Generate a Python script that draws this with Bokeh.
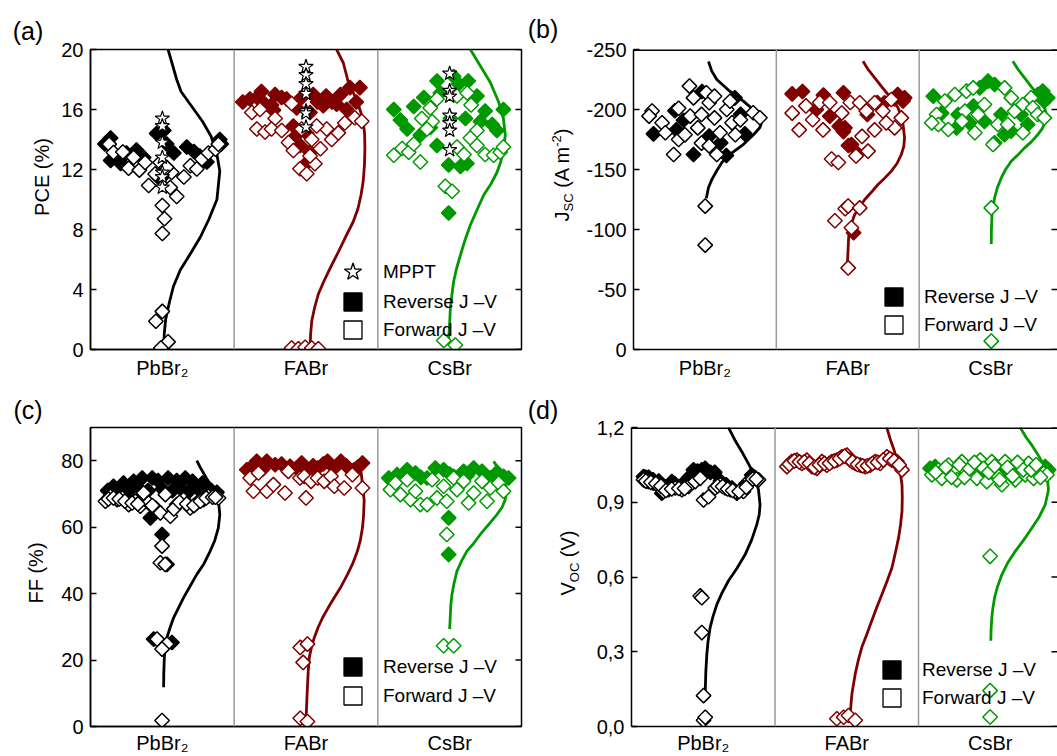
import numpy as np
from bokeh.plotting import figure
from bokeh.layouts import column, row
from bokeh.models import (Range1d, FixedTicker, LinearAxis, Span, Legend,
                          LegendItem, CustomJSTickFormatter, Div)
from bokeh.embed import file_html
from bokeh.resources import INLINE

# ---------------- data (offset inside category 0..1, value) ----------------
CATEGORIES = ["PbBr\u2082", "FABr", "CsBr"]
COLORS = ["#000000", "#800000", "#009900"]

PCE_TICKS = [0, 4, 8, 12, 16, 20]
JSC_TICKS = [0, -50, -100, -150, -200, -250]
FF_TICKS = [0, 20, 40, 60, 80]
VOC_TICKS = [0.0, 0.3, 0.6, 0.9, 1.2]

# (a) PCE (%)
PCE_PB_REV = [(0.10,13.7),(0.14,14.1),(0.14,12.6),(0.20,12.6),(0.25,13.1),(0.32,13.3),(0.37,12.8),(0.46,14.4),(0.51,14.6),(0.53,13.7),(0.58,13.1),(0.67,13.5),(0.72,13.2),(0.76,12.9),(0.79,12.6),(0.90,14.0),(0.91,13.7),(0.52,11.7),(0.47,11.5),(0.21,12.4),(0.81,12.5)]
PCE_PB_FWD = [(0.13,13.69),(0.16,13.13),(0.225,13.17),(0.265,12.09),(0.34,11.96),(0.405,10.93),(0.45,11.7),(0.50,9.6),(0.515,8.72),(0.50,7.73),(0.60,10.2),(0.555,10.8),(0.565,11.8),(0.65,11.5),(0.695,12.25),(0.74,12.03),(0.775,12.7),(0.82,13.1),(0.87,13.35),(0.89,13.69),(0.38,12.47),(0.485,12.47),(0.53,12.14),(0.30,12.8),(0.50,2.54),(0.455,1.88),(0.54,0.51),(0.49,0.1)]
PCE_PB_MPPT = [(0.5,15.4),(0.5,14.9),(0.5,13.8),(0.5,12.8),(0.5,11.8),(0.5,11.5),(0.5,10.8)]
PCE_PB_CURVE = [(0.54,20),(0.57,19),(0.60,18),(0.63,17.2),(0.69,16.4),(0.78,15.2),(0.84,14.2),(0.88,13.0),(0.90,11.9),(0.88,10.0),(0.825,8.7),(0.765,7.5),(0.69,6.3),(0.625,5.3),(0.577,4.2),(0.548,3.1),(0.523,2.0),(0.513,1.0),(0.51,0)]

PCE_FA_REV = [(0.11,16.7),(0.19,17.2),(0.285,17.0),(0.55,17.0),(0.64,16.9),(0.875,17.46),(0.806,17.46),(0.85,16.5),(0.20,16.5),(0.273,15.96),(0.365,16.7),(0.435,16.1),(0.528,15.8),(0.62,16.25),(0.713,16.35),(0.783,16.0),(0.435,14.3),(0.505,14.4),(0.412,14.9),(0.528,13.16),(0.50,12.4),(0.46,13.6),(0.06,16.5),(0.16,16.8),(0.26,16.3),(0.33,16.8),(0.47,16.8),(0.58,16.5),(0.68,16.5),(0.74,17.0)]
PCE_FA_FWD = [(0.123,15.8),(0.18,16.0),(0.158,14.7),(0.215,14.5),(0.285,15.4),(0.26,14.7),(0.331,14.6),(0.40,16.4),(0.378,13.8),(0.412,13.27),(0.458,12.05),(0.505,11.72),(0.562,12.38),(0.528,12.9),(0.60,13.38),(0.54,14.0),(0.644,14.7),(0.679,14.0),(0.725,14.44),(0.77,15.1),(0.839,15.45),(0.888,15.22),(0.574,14.9),(0.469,14.7),(0.40,0.1),(0.447,0.05),(0.494,0.15),(0.54,0.1),(0.586,0.05)]
PCE_FA_MPPT = [(0.5,18.85),(0.5,18.3),(0.5,17.7),(0.5,17.05),(0.5,15.9),(0.5,15.75),(0.5,14.82)]
PCE_FA_CURVE = [(0.713,20),(0.76,19.1),(0.795,17.8),(0.855,16.6),(0.895,15.4),(0.908,14.4),(0.91,13.4),(0.907,12.3),(0.898,11.2),(0.883,10.3),(0.862,9.4),(0.828,8.5),(0.783,7.65),(0.725,6.5),(0.667,5.4),(0.622,4.5),(0.586,3.7),(0.56,2.8),(0.54,1.9),(0.532,1.0),(0.528,0)]

PCE_CS_REV = [(0.111,16.0),(0.157,15.3),(0.204,14.7),(0.25,16.2),(0.32,16.8),(0.412,17.9),(0.435,17.1),(0.528,18.2),(0.563,17.7),(0.629,17.9),(0.69,16.9),(0.747,15.9),(0.714,15.2),(0.796,15.0),(0.829,14.6),(0.874,16.0),(0.505,15.4),(0.61,15.4),(0.365,14.8),(0.296,14.3),(0.493,12.3),(0.575,12.2),(0.62,12.4),(0.493,9.1),(0.412,13.6)]
PCE_CS_FWD = [(0.111,12.95),(0.169,13.4),(0.215,13.15),(0.296,12.5),(0.25,13.7),(0.365,16.1),(0.412,16.7),(0.378,15.2),(0.551,16.9),(0.622,17.1),(0.649,16.3),(0.69,14.6),(0.644,14.1),(0.551,13.5),(0.60,13.0),(0.69,13.6),(0.747,13.0),(0.806,12.95),(0.852,13.15),(0.874,13.5),(0.47,10.88),(0.517,10.55),(0.459,0.6),(0.539,0.3),(0.342,14.7),(0.306,15.4)]
PCE_CS_MPPT = [(0.5,18.4),(0.5,17.25),(0.5,16.87),(0.5,15.6),(0.5,15.1),(0.5,14.6),(0.5,13.3)]
PCE_CS_CURVE = [(0.644,20),(0.714,18.9),(0.783,17.8),(0.841,16.5),(0.874,15.4),(0.887,14.3),(0.874,13.2),(0.855,12.5),(0.829,11.8),(0.785,11.0),(0.737,10.3),(0.69,9.3),(0.644,8.3),(0.607,7.3),(0.575,6.3),(0.548,5.4),(0.528,4.55),(0.515,3.6),(0.505,2.8),(0.50,1.8),(0.493,0.7)]

# (b) J_SC (A m^-2)
JSC_PB_REV = [(0.14,-179.7),(0.29,-199),(0.30,-183),(0.42,-162.5),(0.53,-177.8),(0.61,-172.2),(0.65,-161.7),(0.71,-209.7),(0.78,-179.7),(0.75,-195.9),(0.48,-215),(0.35,-191)]
JSC_PB_FWD = [(0.13,-198.7),(0.109,-194.5),(0.20,-188.9),(0.223,-180.6),(0.281,-162.5),(0.316,-201),(0.316,-175),(0.36,-178.9),(0.392,-219.5),(0.42,-209.7),(0.397,-194.5),(0.45,-184.7),(0.476,-195.9),(0.476,-172),(0.51,-213.9),(0.53,-205.6),(0.567,-211.1),(0.567,-193),(0.583,-162.5),(0.606,-180.6),(0.653,-200),(0.676,-206.9),(0.69,-188.9),(0.713,-179),(0.748,-191.4),(0.838,-197.3),(0.885,-193.1),(0.502,-119.5),(0.502,-87),(0.53,-169.7)]
JSC_PB_CURVE = [(0.525,-240),(0.548,-232),(0.583,-225),(0.676,-215),(0.769,-207),(0.838,-200),(0.88,-195),(0.898,-190),(0.885,-185),(0.84,-179),(0.77,-171),(0.68,-163),(0.62,-156),(0.583,-149),(0.55,-142),(0.525,-135),(0.51,-126)]

JSC_FA_REV = [(0.111,-213),(0.183,-215),(0.28,-200),(0.374,-194.4),(0.47,-181.6),(0.505,-170),(0.57,-163),(0.707,-205.8),(0.828,-208.7),(0.887,-207.2),(0.898,-209.7),(0.85,-212.5),(0.758,-205.6),(0.48,-184.7),(0.526,-170.8),(0.541,-97.3),(0.637,-195.8),(0.44,-186),(0.33,-212),(0.47,-214)]
JSC_FA_FWD = [(0.111,-197),(0.16,-183),(0.207,-203),(0.254,-191.5),(0.327,-183),(0.303,-205.8),(0.374,-205.8),(0.387,-158.7),(0.434,-155.8),(0.458,-197),(0.518,-205.8),(0.584,-205.6),(0.63,-198.7),(0.688,-205.6),(0.746,-198.7),(0.805,-208.3),(0.875,-193),(0.828,-184.7),(0.77,-188.9),(0.688,-183),(0.60,-177.6),(0.642,-165.3),(0.558,-161.3),(0.41,-107.3),(0.482,-117.3),(0.503,-119.5),(0.584,-118),(0.526,-101.4),(0.503,-68)]
JSC_FA_CURVE = [(0.607,-240.3),(0.645,-233),(0.689,-226.4),(0.737,-219),(0.782,-212.5),(0.82,-207),(0.852,-201.4),(0.875,-194),(0.887,-187.5),(0.898,-176.4),(0.892,-169),(0.875,-162.5),(0.845,-155),(0.805,-148.6),(0.76,-143),(0.712,-137.5),(0.665,-131),(0.619,-125),(0.58,-118),(0.549,-112.5),(0.514,-101.4),(0.506,-93),(0.503,-84.7),(0.498,-72)]

JSC_CS_REV = [(0.099,-211.1),(0.157,-197),(0.273,-195.8),(0.262,-184.7),(0.352,-188.9),(0.424,-218),(0.482,-223.6),(0.528,-220.8),(0.457,-190),(0.573,-195.8),(0.528,-172.2),(0.597,-179),(0.643,-181.9),(0.713,-195.8),(0.83,-212.5),(0.865,-215.3),(0.876,-207),(0.90,-209.7),(0.76,-187.5),(0.38,-202.8)]
JSC_CS_FWD = [(0.122,-195.8),(0.134,-187.5),(0.088,-188.9),(0.204,-183.3),(0.18,-207),(0.25,-212.5),(0.331,-215.3),(0.378,-218),(0.32,-198.6),(0.30,-190.3),(0.39,-180.6),(0.413,-195.8),(0.457,-204.2),(0.517,-170.8),(0.552,-187.5),(0.598,-218),(0.645,-209.7),(0.668,-198.6),(0.726,-204.2),(0.726,-180.6),(0.784,-209.7),(0.796,-201.4),(0.83,-195.8),(0.876,-193),(0.62,-187.5),(0.505,-118),(0.505,-7)]
JSC_CS_CURVE = [(0.656,-240.3),(0.695,-233),(0.738,-226.4),(0.785,-219),(0.83,-212.5),(0.86,-207),(0.876,-202.8),(0.89,-196),(0.885,-190),(0.862,-184),(0.83,-179),(0.785,-173),(0.738,-168),(0.69,-162),(0.645,-156.9),(0.605,-150),(0.575,-143),(0.548,-135),(0.528,-126.4),(0.51,-112.5),(0.506,-100),(0.505,-88)]

# (c) FF (%)
FF_PB_REV = [(0.16,72.3),(0.23,73.3),(0.30,73.8),(0.36,74.8),(0.43,74.8),(0.47,74.0),(0.54,74.8),(0.60,74.0),(0.66,74.8),(0.71,73.8),(0.78,73.3),(0.81,72.3),(0.12,71.0),(0.20,71.3),(0.27,71.0),(0.34,71.5),(0.40,71.0),(0.50,71.5),(0.57,71.0),(0.63,71.5),(0.69,71.0),(0.75,71.5),(0.84,71.0),(0.88,70.5),(0.417,62.8),(0.498,57.8),(0.532,48.8),(0.567,25.3),(0.44,26.3)]
FF_PB_FWD = [(0.104,67.8),(0.139,69.3),(0.185,68.3),(0.22,68.8),(0.266,66.8),(0.313,67.8),(0.347,66.3),(0.37,70.3),(0.405,67.3),(0.451,65.8),(0.486,64.3),(0.521,69.8),(0.556,63.3),(0.60,66.8),(0.648,68.3),(0.694,65.8),(0.741,67.3),(0.787,68.3),(0.82,69.3),(0.891,68.8),(0.125,68.5),(0.16,68.8),(0.20,68.5),(0.24,67.8),(0.29,67.3),(0.33,67.0),(0.43,66.5),(0.58,65.5),(0.62,67.5),(0.67,67.0),(0.72,66.5),(0.765,67.8),(0.805,68.8),(0.85,69.0),(0.87,69.0),(0.498,54.3),(0.486,49.3),(0.52,48.8),(0.463,26.3),(0.532,24.8),(0.498,23.3),(0.498,1.8)]
FF_PB_CURVE = [(0.74,80),(0.77,77.5),(0.80,75.3),(0.83,73),(0.856,71.3),(0.89,68.3),(0.90,63.8),(0.89,59.8),(0.865,56),(0.833,52.8),(0.79,49),(0.74,45.8),(0.69,42),(0.648,38.8),(0.61,35.5),(0.579,32.8),(0.552,29.5),(0.532,26.8),(0.52,23.5),(0.514,20.8),(0.51,16),(0.509,11.8)]

FF_FA_REV = [(0.088,77.3),(0.157,79.8),(0.227,79.8),(0.285,78.8),(0.389,78.3),(0.435,77.8),(0.511,76.8),(0.581,77.8),(0.65,79.8),(0.697,77.8),(0.743,79.8),(0.835,77.3),(0.893,79.3),(0.12,78.0),(0.20,77.5),(0.33,79.0),(0.47,79.3),(0.55,78.5),(0.62,79.0),(0.78,78.5),(0.86,78.0)]
FF_FA_FWD = [(0.111,74.8),(0.169,76.3),(0.134,70.8),(0.227,70.8),(0.273,72.8),(0.354,70.3),(0.377,76.8),(0.458,74.8),(0.488,75.3),(0.535,73.8),(0.581,74.8),(0.627,73.8),(0.674,75.3),(0.697,72.3),(0.766,71.8),(0.823,75.8),(0.893,71.8),(0.50,68.8),(0.46,23.8),(0.51,24.8),(0.48,19.3),(0.46,2.5),(0.51,1.5)]
FF_FA_CURVE = [(0.87,80),(0.885,76),(0.895,72),(0.905,68),(0.90,63),(0.893,59.8),(0.878,56),(0.858,52.8),(0.825,49),(0.789,45.8),(0.743,42),(0.697,38.8),(0.655,35.8),(0.616,32.8),(0.584,29.8),(0.558,26.8),(0.538,23.8),(0.523,20.8),(0.516,17),(0.512,13.8),(0.506,8),(0.50,1.8)]

FF_CS_REV = [(0.076,74.8),(0.134,75.8),(0.204,77.3),(0.262,76.3),(0.343,74.8),(0.40,77.8),(0.458,77.3),(0.528,75.3),(0.597,76.8),(0.667,77.8),(0.725,76.8),(0.783,74.8),(0.875,75.3),(0.91,74.8),(0.493,62.8),(0.493,51.8),(0.10,73.8),(0.30,75.0),(0.50,76.0),(0.62,75.5),(0.83,76.5)]
FF_CS_FWD = [(0.088,71.3),(0.123,73.3),(0.157,69.8),(0.204,74.3),(0.227,68.3),(0.262,70.8),(0.296,66.8),(0.343,66.8),(0.378,74.3),(0.412,68.8),(0.458,72.3),(0.48,67.8),(0.528,74.8),(0.551,71.3),(0.597,73.8),(0.632,67.3),(0.667,70.3),(0.725,73.8),(0.76,67.8),(0.783,71.8),(0.841,73.3),(0.875,70.8),(0.48,57.8),(0.458,24.3),(0.528,24.3)]
FF_CS_CURVE = [(0.806,79.8),(0.852,76.8),(0.88,74),(0.895,71.8),(0.887,68.3),(0.865,66),(0.829,63.8),(0.775,61),(0.713,57.8),(0.665,55),(0.62,52.8),(0.585,50),(0.551,46.8),(0.53,43),(0.516,39.8),(0.508,36.5),(0.505,33.8),(0.50,29.3)]

# (d) V_OC (V)
VOC_PB_REV = [(0.084,1.003),(0.12,1.0),(0.211,0.936),(0.281,0.983),(0.35,0.97),(0.432,1.03),(0.513,1.036),(0.55,1.02),(0.70,0.957),(0.734,0.936),(0.838,1.009),(0.86,1.0),(0.10,1.0),(0.15,0.99),(0.19,0.985),(0.24,0.96),(0.30,0.975),(0.40,1.0),(0.46,1.025),(0.49,1.03),(0.58,1.02),(0.62,0.985),(0.66,0.97),(0.76,0.95),(0.80,0.975)]
VOC_PB_FWD = [(0.084,0.99),(0.118,0.983),(0.153,0.977),(0.188,0.972),(0.223,0.943),(0.258,0.95),(0.305,0.957),(0.351,0.95),(0.398,0.963),(0.444,0.983),(0.479,0.996),(0.502,0.909),(0.537,0.922),(0.583,0.957),(0.618,0.97),(0.653,0.957),(0.688,0.95),(0.723,0.943),(0.78,0.943),(0.827,0.99),(0.862,0.996),(0.885,0.99),(0.10,0.985),(0.135,0.98),(0.17,0.975),(0.205,0.965),(0.24,0.947),(0.28,0.953),(0.33,0.955),(0.37,0.955),(0.60,0.965),(0.635,0.963),(0.67,0.953),(0.705,0.947),(0.75,0.943),(0.80,0.96),(0.845,0.993),(0.87,0.993),(0.479,0.524),(0.49,0.517),(0.49,0.377),(0.502,0.124),(0.502,0.025),(0.514,0.037)]
VOC_PB_CURVE = [(0.676,1.2),(0.72,1.15),(0.769,1.103),(0.805,1.065),(0.838,1.03),(0.865,0.99),(0.885,0.95),(0.896,0.89),(0.89,0.85),(0.873,0.81),(0.838,0.75),(0.792,0.69),(0.735,0.635),(0.676,0.585),(0.63,0.535),(0.595,0.49),(0.567,0.44),(0.548,0.397),(0.533,0.34),(0.525,0.29),(0.518,0.22),(0.514,0.144)]

VOC_FA_REV = []
VOC_FA_FWD = [(0.083,1.043),(0.117,1.063),(0.152,1.069),(0.187,1.056),(0.222,1.069),(0.257,1.043),(0.292,1.036),(0.327,1.063),(0.361,1.049),(0.396,1.063),(0.431,1.069),(0.466,1.082),(0.501,1.089),(0.524,1.069),(0.559,1.056),(0.594,1.049),(0.629,1.043),(0.664,1.049),(0.699,1.063),(0.733,1.056),(0.78,1.082),(0.815,1.069),(0.85,1.063),(0.885,1.03),(0.10,1.053),(0.135,1.066),(0.17,1.062),(0.205,1.062),(0.24,1.056),(0.275,1.04),(0.31,1.05),(0.345,1.056),(0.38,1.056),(0.415,1.066),(0.45,1.075),(0.485,1.085),(0.54,1.062),(0.575,1.052),(0.61,1.046),(0.645,1.046),(0.68,1.056),(0.715,1.06),(0.755,1.07),(0.80,1.075),(0.83,1.066),(0.865,1.05),(0.431,0.031),(0.478,0.037),(0.512,0.044),(0.559,0.025)]
VOC_FA_CURVE = [(0.779,1.2),(0.802,1.155),(0.826,1.116),(0.845,1.08),(0.861,1.05),(0.875,1.01),(0.885,0.97),(0.887,0.92),(0.885,0.863),(0.875,0.81),(0.861,0.757),(0.84,0.70),(0.815,0.637),(0.782,0.585),(0.745,0.53),(0.71,0.48),(0.675,0.425),(0.64,0.37),(0.606,0.32),(0.58,0.265),(0.559,0.211),(0.536,0.131),(0.524,0.051)]

VOC_CS_REV = [(0.081,1.036),(0.116,1.043),(0.30,1.03),(0.45,1.02),(0.534,1.023),(0.60,1.025),(0.836,1.036),(0.883,1.043),(0.906,1.03)]
VOC_CS_FWD = [(0.093,1.01),(0.139,1.03),(0.162,0.996),(0.209,1.049),(0.255,1.03),(0.267,0.99),(0.302,1.063),(0.337,1.023),(0.372,1.043),(0.407,0.996),(0.43,1.069),(0.453,1.036),(0.476,0.983),(0.511,1.063),(0.546,1.01),(0.581,0.97),(0.604,1.063),(0.639,1.023),(0.674,0.99),(0.709,1.043),(0.744,1.01),(0.767,1.056),(0.802,0.996),(0.872,1.016),(0.895,1.01),(0.12,1.02),(0.19,1.04),(0.23,1.0),(0.285,1.05),(0.32,1.0),(0.355,1.035),(0.39,1.06),(0.49,1.02),(0.53,1.045),(0.565,0.99),(0.62,1.04),(0.655,1.005),(0.69,1.06),(0.73,1.03),(0.785,1.03),(0.82,1.05),(0.85,1.0),(0.499,0.683),(0.499,0.144),(0.499,0.038)]
VOC_CS_CURVE = [(0.709,1.2),(0.75,1.16),(0.79,1.129),(0.828,1.095),(0.86,1.063),(0.882,1.035),(0.895,1.01),(0.906,0.95),(0.883,0.89),(0.84,0.84),(0.79,0.797),(0.735,0.75),(0.674,0.703),(0.62,0.655),(0.581,0.61),(0.55,0.56),(0.53,0.517),(0.517,0.47),(0.511,0.437),(0.506,0.39),(0.504,0.344)]

LEGEND_MPPT = "MPPT"
LEGEND_REV = "Reverse J \u2013V"
LEGEND_FWD = "Forward J \u2013V"

# ---------------- styling / layout ----------------
FONT = "Liberation Sans"
TICK_FS = "20px"
MSIZE = 10.3
STAR_SIZE = 15
CURVE_W = 2.8
FRAME_W = 1.5


def unzip(pairs, idx):
    xs = [idx + p[0] for p in pairs]
    ys = [p[1] for p in pairs]
    return xs, ys


def make_panel(width, height, yr, yticks, mbl, mbt, mbb, x_end, boxed,
               cat_standoff, yfmt=None, ylab_standoff=7):
    p = figure(width=width, height=height, x_range=Range1d(0, x_end),
               y_range=Range1d(*yr), x_axis_type=None, y_axis_type=None,
               output_backend="svg", toolbar_location=None,
               min_border_left=mbl, min_border_right=(4 if boxed else 0),
               min_border_top=mbt, min_border_bottom=mbb)
    p.outline_line_color = "black" if boxed else None
    p.outline_line_width = FRAME_W
    p.background_fill_color = "white"
    p.border_fill_color = "white"

    left = LinearAxis(ticker=FixedTicker(ticks=yticks), major_tick_in=6, major_tick_out=0,
                      minor_tick_in=0, minor_tick_out=0, axis_line_width=FRAME_W,
                      major_tick_line_width=FRAME_W, major_label_standoff=ylab_standoff,
                      major_label_text_font=FONT, major_label_text_font_size=TICK_FS,
                      major_label_text_color="black")
    if yfmt is not None:
        left.formatter = yfmt
    p.add_layout(left, "left")

    bottom = LinearAxis(ticker=FixedTicker(ticks=[0.5, 1.5, 2.5]),
                        major_label_overrides={0.5: CATEGORIES[0], 1.5: CATEGORIES[1],
                                               2.5: CATEGORIES[2]},
                        major_tick_in=0, major_tick_out=0, minor_tick_in=0, minor_tick_out=0,
                        axis_line_width=FRAME_W, major_label_standoff=cat_standoff,
                        major_label_text_font=FONT, major_label_text_font_size=TICK_FS,
                        major_label_text_color="black")
    p.add_layout(bottom, "below")

    if not boxed:
        # top frame line (half of it falls inside the frame)
        p.add_layout(Span(location=yr[1], dimension="width", line_color="black",
                          line_width=3))
    # inward ticks on the right frame edge
    p.scatter([x_end] * len(yticks), yticks, marker="dash", size=12,
              line_color="black", line_width=FRAME_W)

    for loc in (1, 2):
        p.add_layout(Span(location=loc, dimension="height", line_color="#9a9a9a",
                          line_width=1.5))
    return p


def draw_groups(p, groups):
    for i, (rev, fwd, curve) in enumerate(groups):
        cx, cy = unzip(curve, i)
        p.line(cx, cy, line_color=COLORS[i], line_width=CURVE_W, line_join="round")
    for i, (rev, fwd, curve) in enumerate(groups):
        c = COLORS[i]
        rx, ry = unzip(rev, i)
        p.scatter(rx, ry, marker="square", angle=np.pi / 4, size=MSIZE,
                  fill_color=c, line_color=c, line_width=1.5)
        fx, fy = unzip(fwd, i)
        p.scatter(fx, fy, marker="square", angle=np.pi / 4, size=MSIZE,
                  fill_color="white", line_color=c, line_width=1.5)


def draw_stars(p, star_groups):
    for i, pts in enumerate(star_groups):
        sx, sy = unzip(pts, i)
        p.scatter(sx, sy, marker="star", size=STAR_SIZE, fill_color="white",
                  line_color="black", line_width=1.2)


def add_legend(p, entries, vx, vys):
    # one single-item legend per row so that the rows can sit closer than the glyph box
    for (label, marker, fill), vy in zip(entries, vys):
        r = p.scatter([np.nan], [np.nan], marker=marker, fill_color=fill,
                      line_color="black", line_width=1.3)
        leg = Legend(items=[LegendItem(label=label, renderers=[r])], location=(vx, vy),
                     glyph_width=45, glyph_height=45, padding=0, margin=0, spacing=0,
                     label_standoff=8, border_line_color=None, background_fill_alpha=0,
                     label_text_font=FONT, label_text_font_size="19px",
                     label_text_color="black", label_height=20)
        p.add_layout(leg)


def span(text, x, y, size, rotate=False):
    tr = "translate(-50%,-50%)" + (" rotate(-90deg)" if rotate else "")
    return ('<span style="position:absolute;left:%.1fpx;top:%.1fpx;font-size:%s;'
            'line-height:1.1;white-space:nowrap;transform:%s;">%s</span>'
            % (x, y, size, tr, text))


def text_div(width, height, spans):
    html = ('<div style="position:relative;width:%dpx;height:%dpx;'
            'font-family:\'Liberation Sans\',Arial,sans-serif;color:#000;">%s</div>'
            % (width, height, "".join(spans)))
    return Div(text=html, width=width, height=height, margin=0)


SUB = '<sub style="font-size:13px;vertical-align:-4px;">%s</sub>'
SUP = '<sup style="font-size:13px;vertical-align:8px;">%s</sup>'

# canvas geometry (page has no margin): left frames 89..521, right frames 631..1057
DIV_L_W, LEFT_W, DIV_R_W, RIGHT_W = 58, 467, 58, 474
TOP_H, BOT_H = 387, 369
RIGHT_XEND = (RIGHT_W - 48) / 143.5

# (a)
pa = make_panel(LEFT_W, TOP_H, (0, 20), PCE_TICKS, 31, 49, 38, 3, True, 7)
draw_groups(pa, [(PCE_PB_REV, PCE_PB_FWD, PCE_PB_CURVE),
                 (PCE_FA_REV, PCE_FA_FWD, PCE_FA_CURVE),
                 (PCE_CS_REV, PCE_CS_FWD, PCE_CS_CURVE)])
draw_stars(pa, [PCE_PB_MPPT, PCE_FA_MPPT, PCE_CS_MPPT])
add_legend(pa, [(LEGEND_MPPT, "star", "white"), (LEGEND_REV, "square", "black"),
                (LEGEND_FWD, "square", "white")], 240, [55, 25, -3])

# (b)
pb = make_panel(RIGHT_W, TOP_H, (0, -250), JSC_TICKS, 48, 49, 38, RIGHT_XEND, False, 7,
                yfmt=CustomJSTickFormatter(code="return tick.toFixed(0);"), ylab_standoff=7)
draw_groups(pb, [(JSC_PB_REV, JSC_PB_FWD, JSC_PB_CURVE),
                 (JSC_FA_REV, JSC_FA_FWD, JSC_FA_CURVE),
                 (JSC_CS_REV, JSC_CS_FWD, JSC_CS_CURVE)])
add_legend(pb, [(LEGEND_REV, "square", "black"), (LEGEND_FWD, "square", "white")],
           238, [30, 2])

# (c)
pc = make_panel(LEFT_W, BOT_H, (0, 90), FF_TICKS, 31, 40, 29, 3, True, 5)
draw_groups(pc, [(FF_PB_REV, FF_PB_FWD, FF_PB_CURVE),
                 (FF_FA_REV, FF_FA_FWD, FF_FA_CURVE),
                 (FF_CS_REV, FF_CS_FWD, FF_CS_CURVE)])
add_legend(pc, [(LEGEND_REV, "square", "black"), (LEGEND_FWD, "square", "white")],
           240, [37, 8])

# (d)
pd = make_panel(RIGHT_W, BOT_H, (0, 1.2), VOC_TICKS, 48, 40, 29, RIGHT_XEND, False, 5,
                yfmt=CustomJSTickFormatter(code="return tick.toFixed(1).replace('.', ',');"),
                ylab_standoff=7)
draw_groups(pd, [(VOC_PB_REV, VOC_PB_FWD, VOC_PB_CURVE),
                 (VOC_FA_REV, VOC_FA_FWD, VOC_FA_CURVE),
                 (VOC_CS_REV, VOC_CS_FWD, VOC_CS_CURVE)])
add_legend(pd, [(LEGEND_REV, "square", "black"), (LEGEND_FWD, "square", "white")],
           238, [34, 6])

# outside texts (panel letters and y-axis titles)
div_a = text_div(DIV_L_W, TOP_H, [span("(a)", 28, 32, "25px"),
                                  span("PCE (%)", 42, 177, "20px", rotate=True)])
div_b = text_div(DIV_R_W, TOP_H, [span("(b)", 18, 30, "25px"),
                                  span("J" + SUB % "SC" + " (A m" + SUP % "-2" + ")",
                                       38, 175, "20px", rotate=True)])
div_c = text_div(DIV_L_W, BOT_H, [span("(c)", 28, 24, "25px"),
                                  span("FF (%)", 36, 186, "20px", rotate=True)])
div_d = text_div(DIV_R_W, BOT_H, [span("(d)", 18, 24, "25px"),
                                  span("V" + SUB % "OC" + " (V)", 45, 176, "20px",
                                       rotate=True)])

layout = column(row(div_a, pa, div_b, pb), row(div_c, pc, div_d, pd))
open("out.html", "w").write(file_html(layout, INLINE))
